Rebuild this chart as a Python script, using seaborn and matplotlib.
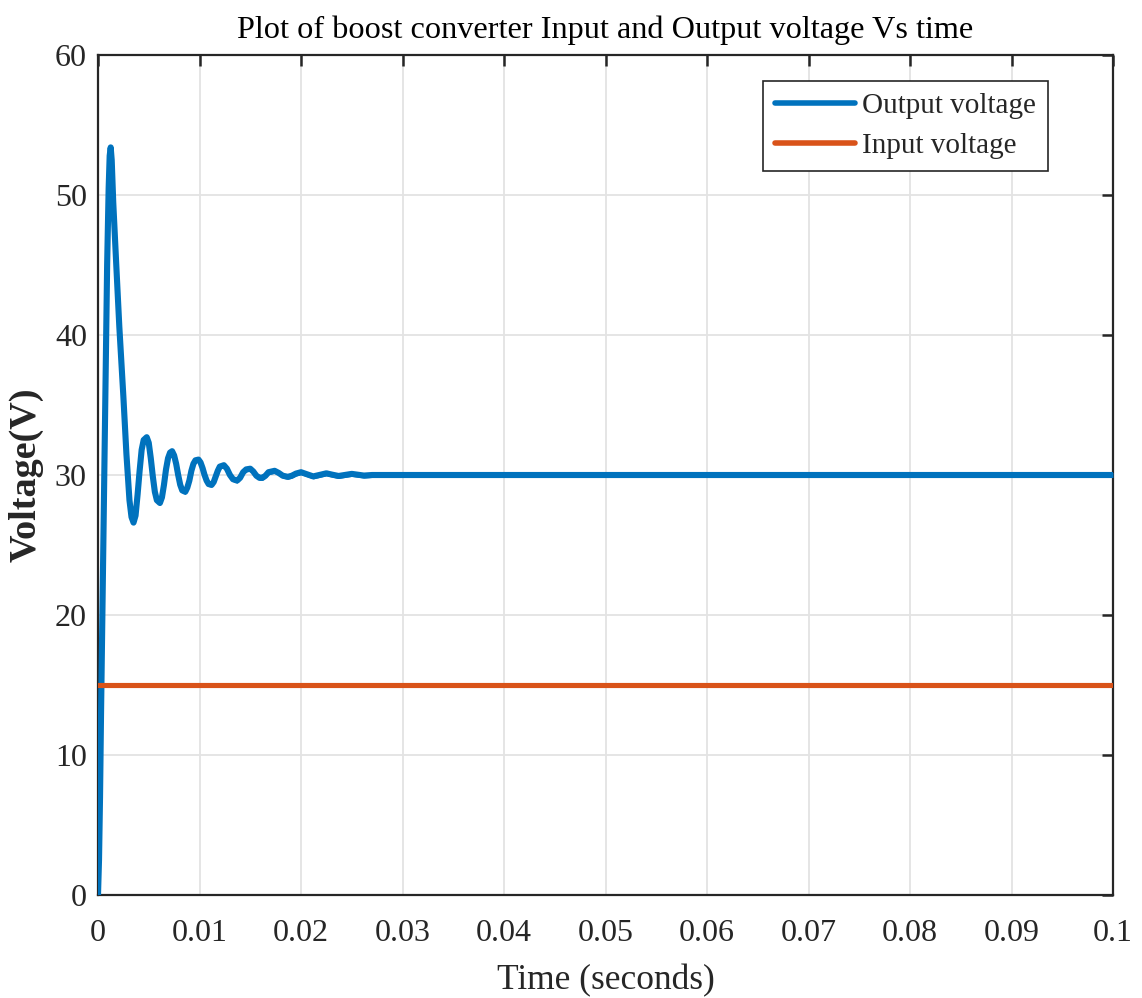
import numpy as np
import pandas as pd
import matplotlib
matplotlib.use("Agg")
import matplotlib.pyplot as plt
import seaborn as sns
from matplotlib.ticker import FuncFormatter

# ---- data ----
time_out = [0, 0.0001, 0.0002, 0.0003, 0.00045, 0.0006, 0.00075, 0.0009, 0.00105, 0.00115,
            0.00125, 0.00135, 0.0015, 0.0018, 0.0021, 0.0025, 0.0028, 0.0031, 0.0033, 0.0035,
            0.0037, 0.0039, 0.0041, 0.0043, 0.0045, 0.0048, 0.0050, 0.0052, 0.0054, 0.0056,
            0.0058, 0.0061, 0.0063, 0.0065, 0.0067, 0.0069, 0.0071, 0.0073, 0.0075, 0.0077,
            0.0079, 0.0081, 0.0083, 0.0086, 0.0088, 0.0090, 0.0092, 0.0094, 0.0096, 0.0099,
            0.0101, 0.0103, 0.0105, 0.0107, 0.0109, 0.0112, 0.0114, 0.0116, 0.0118, 0.0120,
            0.0124, 0.0127, 0.0130, 0.0133, 0.0137, 0.0140, 0.0143, 0.0146, 0.0150, 0.0153,
            0.0156, 0.0159, 0.0162, 0.0165, 0.0168, 0.0174, 0.0178, 0.0182, 0.0187, 0.0191,
            0.0195, 0.0200, 0.0206, 0.0212, 0.0218, 0.0225, 0.0231, 0.0237, 0.0243, 0.0250,
            0.0256, 0.0262, 0.0270, 0.0300, 0.0400, 0.0500, 0.0600, 0.0700, 0.0800, 0.0900,
            0.1000]
output_voltage = [0, 2.5, 7, 13, 21, 29, 37, 45, 50.5, 52.8,
                  53.4, 52.5, 49.5, 45, 40.6, 35.6, 31.5, 28.2, 27.0, 26.6,
                  27.1, 28.6, 30.3, 31.8, 32.5, 32.7, 32.3, 31.2, 29.9, 28.8,
                  28.2, 28.0, 28.4, 29.3, 30.4, 31.2, 31.6, 31.7, 31.4, 30.8,
                  30.0, 29.3, 28.9, 28.8, 29.1, 29.6, 30.3, 30.8, 31.05, 31.1,
                  30.9, 30.5, 30.0, 29.6, 29.35, 29.3, 29.5, 29.9, 30.3, 30.6,
                  30.7, 30.45, 30.0, 29.7, 29.6, 29.8, 30.2, 30.4, 30.45, 30.25,
                  29.95, 29.8, 29.8, 29.95, 30.2, 30.3, 30.15, 29.95, 29.87, 29.95,
                  30.1, 30.2, 30.05, 29.9, 30.0, 30.12, 30.02, 29.93, 30.0, 30.08,
                  30.02, 29.96, 30.0, 30.0, 30.0, 30.0, 30.0, 30.0, 30.0, 30.0,
                  30.0]
ripple_half_band = 0.18  # switching ripple (V), seen as a thicker trace
time_in = [0.0, 0.1]
input_voltage = [15.0, 15.0]

x_ticks = [0, 0.01, 0.02, 0.03, 0.04, 0.05, 0.06, 0.07, 0.08, 0.09, 0.1]
y_ticks = [0, 10, 20, 30, 40, 50, 60]

title = "Plot of boost converter Input and Output voltage Vs time"
series_names = ["Output voltage", "Input voltage"]
colors = ["#0072BD", "#D95319"]

# ---- plot ----
sns.set_theme(style="whitegrid")
plt.rcParams['font.family'] = ['Liberation Serif', 'DejaVu Serif']

df = pd.concat([
    pd.DataFrame({"t": time_out, "v": output_voltage, "series": series_names[0]}),
    pd.DataFrame({"t": time_in, "v": input_voltage, "series": series_names[1]}),
], ignore_index=True)

fig = plt.figure(figsize=(11.42, 9.98), dpi=100)
ax = fig.add_axes([98 / 1142, 1 - 895 / 998, (1113 - 98) / 1142, (895 - 55) / 998])

out_df = df[df.series == series_names[0]]
ax.fill_between(out_df.t, out_df.v - ripple_half_band, out_df.v + ripple_half_band,
                color=colors[0], lw=0, zorder=3)
sns.lineplot(data=out_df, x="t", y="v", ax=ax,
             color=colors[0], lw=4.4, estimator=None, sort=False,
             label=series_names[0], zorder=3)
sns.lineplot(data=df[df.series == series_names[1]], x="t", y="v", ax=ax,
             color=colors[1], lw=3.7, estimator=None, sort=False,
             label=series_names[1], zorder=3)

ax.set_xlim(0, 0.1)
ax.set_ylim(0, 60)
ax.set_xticks(x_ticks)
ax.set_yticks(y_ticks)
ax.xaxis.set_major_formatter(FuncFormatter(lambda v, p: f"{v:g}"))
ax.yaxis.set_major_formatter(FuncFormatter(lambda v, p: f"{v:g}"))

ax.grid(True, color="#e3e3e3", lw=1.3)
for s in ax.spines.values():
    s.set_visible(True)
    s.set_color("#262626")
    s.set_linewidth(1.6)
ax.tick_params(direction="in", length=8, width=1.8, color="#262626",
               top=True, right=True, labelsize=23, labelcolor="#262626", pad=8)
ax.tick_params(axis="x", pad=17)
ax.set_xlabel("Time (seconds)", fontsize=25.5, color="#262626", labelpad=12)
ax.set_ylabel("Voltage(V)", fontsize=27.5, fontweight="bold", color="#262626", labelpad=8)
ax.set_title(title, fontsize=23.2, color="black", pad=12)

leg = ax.legend(loc="upper right",
                bbox_to_anchor=((1048 - 98) / 1015, (895 - 81) / 840),
                bbox_transform=ax.transAxes, borderaxespad=0, fontsize=21, frameon=True,
                fancybox=False, edgecolor="#262626", framealpha=1,
                handlelength=2.75, borderpad=0.4, labelspacing=0.46, handletextpad=0.25)
leg.get_frame().set_linewidth(1.2)
for line in leg.get_lines():
    line.set_linewidth(4.0)

fig.savefig("out.png", dpi=100, facecolor="white")
